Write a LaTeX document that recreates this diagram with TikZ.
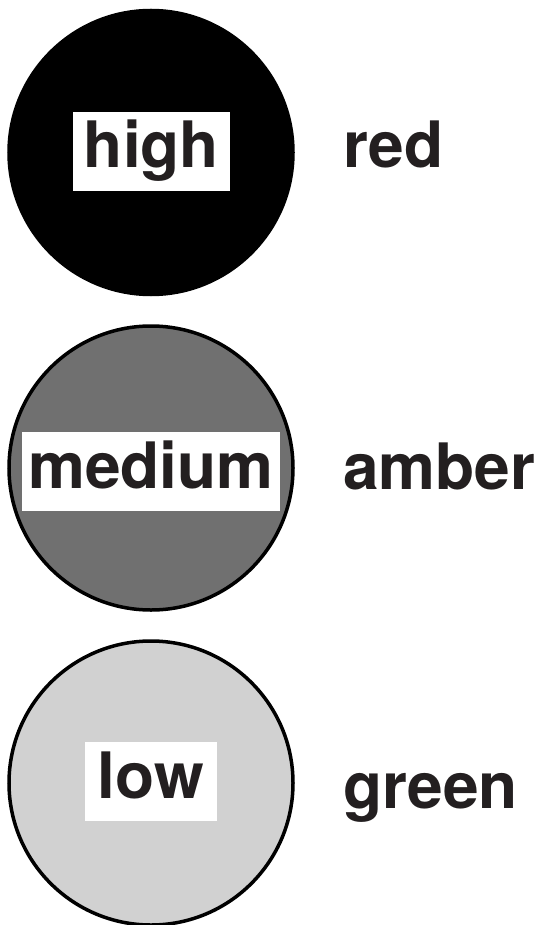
\documentclass[tikz,border=0pt]{standalone}
\usepackage{fontspec}
\setmainfont{TeX Gyre Heros}
\usepackage{tikz}
\usetikzlibrary{positioning}
\definecolor{inkblack}{HTML}{231F20}
\definecolor{midgrey}{HTML}{707070}
\definecolor{lightgrey}{HTML}{D1D1D1}

\begin{document}
\begin{tikzpicture}[x=1pt,y=-1pt,
		dot/.style={circle,draw=black,line width=3.5pt,minimum size=284pt,inner sep=0pt},
		tag/.style={fill=white,anchor=base,text=inkblack,font=\fontsize{64}{70}\selectfont\bfseries,
			text height=46pt,text depth=13pt,inner ysep=10pt,inner xsep=0pt},
		level/.style={anchor=base west,inner sep=0pt,text=inkblack,font=\fontsize{64}{70}\selectfont\bfseries}]
				%\draw[color=gray,step=10pt,help lines,opacity=0.3] (0,0) grid (541,925); %help grids
				\useasboundingbox (0,0) rectangle (541,925);
				\node[dot,fill=black] (highdot) at (151,152.5) {};
				\node[dot,fill=midgrey] (mediumdot) at (151,468) {};
				\node[dot,fill=lightgrey] (lowdot) at (151,783) {};
				\node[tag,minimum width=157pt] (hightag) at (151.5,168) {high};
				\node[tag,minimum width=258pt] (mediumtag) at (151,488) {medium};
				\node[tag,minimum width=132pt] (lowtag) at (151,798) {low};
				\node[level] (redlabel) at (343,168) {red};
				\node[level] (amberlabel) at (343,489) {amber};
				\node[level] (greenlabel) at (343,808) {green};
\end{tikzpicture}
\end{document}
